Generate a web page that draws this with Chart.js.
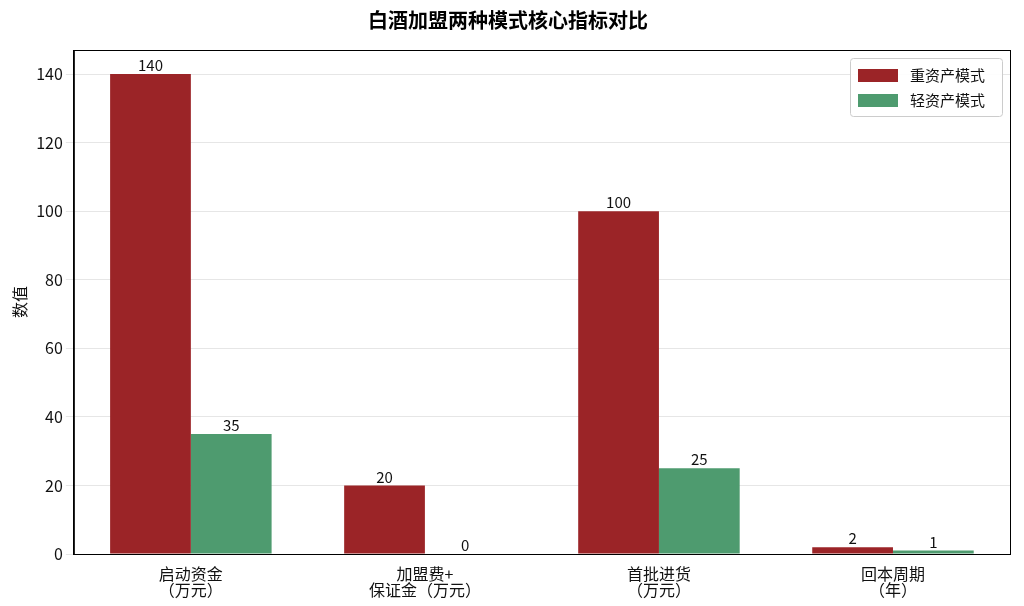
<!DOCTYPE html>
<html><head><meta charset="utf-8">
<script src="https://cdn.jsdelivr.net/npm/chart.js@4/dist/chart.umd.min.js"></script>
<style>html,body{margin:0;background:#fff}#w{width:1024px;height:606px}</style>
</head><body><div id="w"><canvas id="c"></canvas></div>
<script>
const categories=[["启动资金","（万元）"],["加盟费+","保证金（万元）"],["首批进货","（万元）"],["回本周期","（年）"]];
const heavy=[140,20,100,2];
const light=[35,0,25,1];
const F='"Noto Sans CJK SC","Noto Sans",sans-serif';
const labels={id:'lbl',afterDatasetsDraw(ch){const x=ch.ctx;x.save();x.font='15px '+F;x.fillStyle='#111';x.textAlign='center';x.textBaseline='bottom';
ch.data.datasets.forEach((d,i)=>ch.getDatasetMeta(i).data.forEach((b,j)=>x.fillText(d.data[j],b.x,b.y-1)));
const a=ch.chartArea;x.strokeStyle='#000';x.lineWidth=1;x.strokeRect(a.left+0.5,a.top+0.5,a.right-a.left,a.bottom-a.top);x.restore();}};
new Chart(document.getElementById('c'),{type:'bar',data:{labels:categories,datasets:[
{label:'重资产模式',data:heavy,backgroundColor:'#9b2427'},
{label:'轻资产模式',data:light,backgroundColor:'#4e9b6f'}]},
options:{responsive:true,maintainAspectRatio:false,animation:false,
layout:{padding:{left:6,right:14,top:0,bottom:4}},
plugins:{title:{display:true,text:'白酒加盟两种模式核心指标对比',font:{family:F,size:20,weight:'bold'},color:'#000',padding:{top:8,bottom:18}},
legend:{display:false},tooltip:{enabled:false}},
datasets:{bar:{barPercentage:1,categoryPercentage:0.69}},
scales:{x:{grid:{display:false},border:{color:'#000'},ticks:{color:'#111',font:{family:F,size:16,lineHeight:1},padding:4}},
y:{min:0,max:147,afterBuildTicks(s){s.ticks=s.ticks.filter(t=>t.value%20===0);},ticks:{stepSize:20,color:'#111',font:{family:F,size:16}},grid:{color:'#e6e6e6'},border:{color:'#000'},
title:{display:true,text:'数值',color:'#111',font:{family:F,size:16}}}}},
plugins:[labels,{id:'leg',afterDraw(ch){const x=ch.ctx,a=ch.chartArea;const w=152,h=58,l=a.right-w-8,t=a.top+8;x.save();
x.fillStyle='rgba(255,255,255,0.9)';x.strokeStyle='#ccc';x.lineWidth=1;x.beginPath();x.roundRect(l+0.5,t+0.5,w,h,3);x.fill();x.stroke();
x.font='15px '+F;x.textBaseline='middle';x.fillStyle='#111';
ch.data.datasets.forEach((d,i)=>{const y=t+17+i*25;x.fillStyle=d.backgroundColor;x.fillRect(l+8,y-6,40,13);x.fillStyle='#111';x.fillText(d.label,l+60,y);});x.restore();}}]});
</script></body></html>
